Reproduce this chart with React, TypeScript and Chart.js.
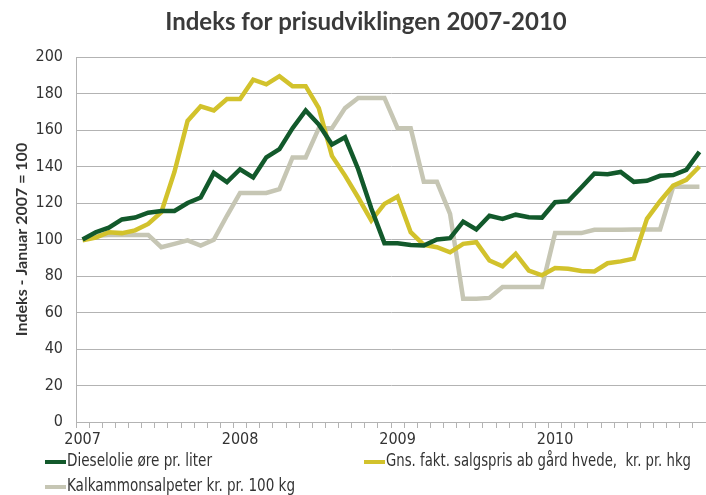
import { useEffect, useRef } from "react";
import { Chart, registerables } from "chart.js";

Chart.register(...registerables);

const chartTitle = "Indeks for prisudviklingen 2007-2010";
const yAxisTitle = "Indeks - Januar 2007 = 100";
const years = ["2007", "2008", "2009", "2010"];
const monthNames = ["jan", "feb", "mar", "apr", "maj", "jun", "jul", "aug", "sep", "okt", "nov", "dec"];
const months: string[] = years.flatMap((y) => monthNames.map((m) => `${m} ${y}`));

const seriesNames = [
  "Dieselolie øre pr. liter",
  "Gns. fakt. salgspris ab gård hvede,  kr. pr. hkg",
  "Kalkammonsalpeter kr. pr. 100 kg",
];
const seriesColors = ["#12592b", "#d2c22c", "#c6c6b4"];

const diesel = [
  100, 104, 106.5, 111, 112, 114.7, 115.6, 115.6, 120, 123, 136.5, 131.5,
  138.5, 134, 145, 149.5, 161, 170.7, 163, 152, 156, 138.5, 117, 98,
  98, 97, 96.7, 100, 100.7, 109.8, 105.5, 113, 111.3, 113.6, 112.2, 112,
  120.4, 121, 128.5, 136.2, 135.8, 137, 131.6, 132.2, 134.9, 135.3, 138.2, 148,
];
const wheat = [
  99.6, 101, 104, 103.5, 105, 108.5, 115, 137, 165, 173, 170.7, 177,
  177, 187.6, 185, 189.5, 184, 184, 172, 145.8, 135, 123, 110.4, 119.5,
  123.6, 104, 97, 95.8, 93, 97.6, 98.5, 88.5, 85.3, 92.2, 83, 80.4,
  84.4, 84, 82.7, 82.5, 87, 88, 89.5, 111.3, 121, 129.5, 132.7, 140,
];
const fertilizer = [
  100, 102, 102.5, 102.5, 102.5, 102.5, 95.8, 97.6, 99.5, 96.7, 99.8, 113,
  125.5, 125.5, 125.5, 127.6, 145, 145, 161, 161, 172, 177.6, 177.6, 177.6,
  161, 161, 131.6, 131.6, 114, 67.6, 67.6, 68, 74, 74, 74, 74,
  103.5, 103.5, 103.5, 105.3, 105.3, 105.3, 105.5, 105.5, 105.5, 128.9, 128.9, 128.9,
];
const seriesData = [diesel, wheat, fertilizer];

const yMin = 0;
const yMax = 200;
const yStep = 20;

const narrowFont = '"Liberation Sans Narrow", "DejaVu Sans Condensed", "Noto Sans", sans-serif';
const boldFont = 'Lato, "Open Sans", sans-serif';
const textColor = "#333333";
const gridColor = "#b3b3b3";

const decorPlugin = {
  id: "decor",
  afterDraw(chart: any) {
    const ctx = chart.ctx as CanvasRenderingContext2D;
    ctx.save();
    // title
    ctx.fillStyle = "#3a3a3a";
    ctx.font = `bold 24px ${boldFont}`;
    ctx.textAlign = "center";
    ctx.textBaseline = "middle";
    ctx.fillText(chartTitle, 366, 22);
    // legend
    const items = [
      { x: 45, y: 462, i: 0, w: 145 },
      { x: 364, y: 462, i: 1, w: 305 },
      { x: 45, y: 487, i: 2, w: 228 },
    ];
    ctx.font = `17px ${narrowFont}`;
    ctx.textAlign = "left";
    for (const it of items) {
      ctx.strokeStyle = seriesColors[it.i];
      ctx.lineWidth = 4;
      ctx.beginPath();
      ctx.moveTo(it.x, it.y);
      ctx.lineTo(it.x + 21, it.y);
      ctx.stroke();
      ctx.fillStyle = textColor;
      const measured = ctx.measureText(seriesNames[it.i]).width;
      const sx = Math.min(1, it.w / measured);
      ctx.save();
      ctx.translate(it.x + 22, it.y);
      ctx.scale(sx, 1);
      ctx.fillText(seriesNames[it.i], 0, 0);
      ctx.restore();
    }
    ctx.restore();
  },
};

export default function App() {
  const canvasRef = useRef<HTMLCanvasElement | null>(null);

  useEffect(() => {
    if (!canvasRef.current) return;
    const chart = new Chart(canvasRef.current, {
      type: "line",
      data: {
        labels: months,
        datasets: seriesData.map((d, i) => ({
          label: seriesNames[i],
          data: d,
          borderColor: seriesColors[i],
          backgroundColor: seriesColors[i],
          borderWidth: 4.5,
          pointRadius: 0,
          tension: 0,
          fill: false,
          order: i,
        })),
      },
      options: {
        animation: false,
        responsive: false,
        events: [],
        layout: { padding: { top: 57, bottom: 45, left: 0, right: 0 } },
        plugins: {
          legend: { display: false },
          title: { display: false },
          tooltip: { enabled: false },
        },
        scales: {
          x: {
            type: "category",
            offset: true,
            grid: {
              offset: true,
              drawOnChartArea: false,
              drawTicks: true,
              tickLength: 6,
              color: gridColor,
            },
            border: { display: true, color: gridColor },
            ticks: {
              autoSkip: false,
              maxRotation: 0,
              minRotation: 0,
              padding: 2,
              color: textColor,
              font: { family: narrowFont, size: 16 },
              callback: (_v: any, idx: number) => (idx % 12 === 0 ? years[idx / 12] : ""),
            },
            afterFit: (s: any) => {
              s.height = 28;
            },
          },
          y: {
            min: yMin,
            max: yMax,
            ticks: {
              stepSize: yStep,
              padding: 13,
              color: textColor,
              font: { family: narrowFont, size: 16 },
            },
            grid: { color: gridColor, drawTicks: false, lineWidth: 1 },
            border: { display: true, color: gridColor },
            title: {
              display: true,
              text: yAxisTitle,
              color: textColor,
              font: { family: boldFont, size: 16, weight: "bold" },
              padding: { top: 12.4, bottom: 0 },
            },
            afterFit: (s: any) => {
              s.width = 76;
            },
          },
        },
      },
      plugins: [decorPlugin],
    });
    return () => chart.destroy();
  }, []);

  return (
    <div style={{ position: "absolute", left: 0, top: 0, width: 706, height: 495, background: "#fff" }}>
      <canvas ref={canvasRef} width={706} height={495} style={{ display: "block" }} />
    </div>
  );
}
